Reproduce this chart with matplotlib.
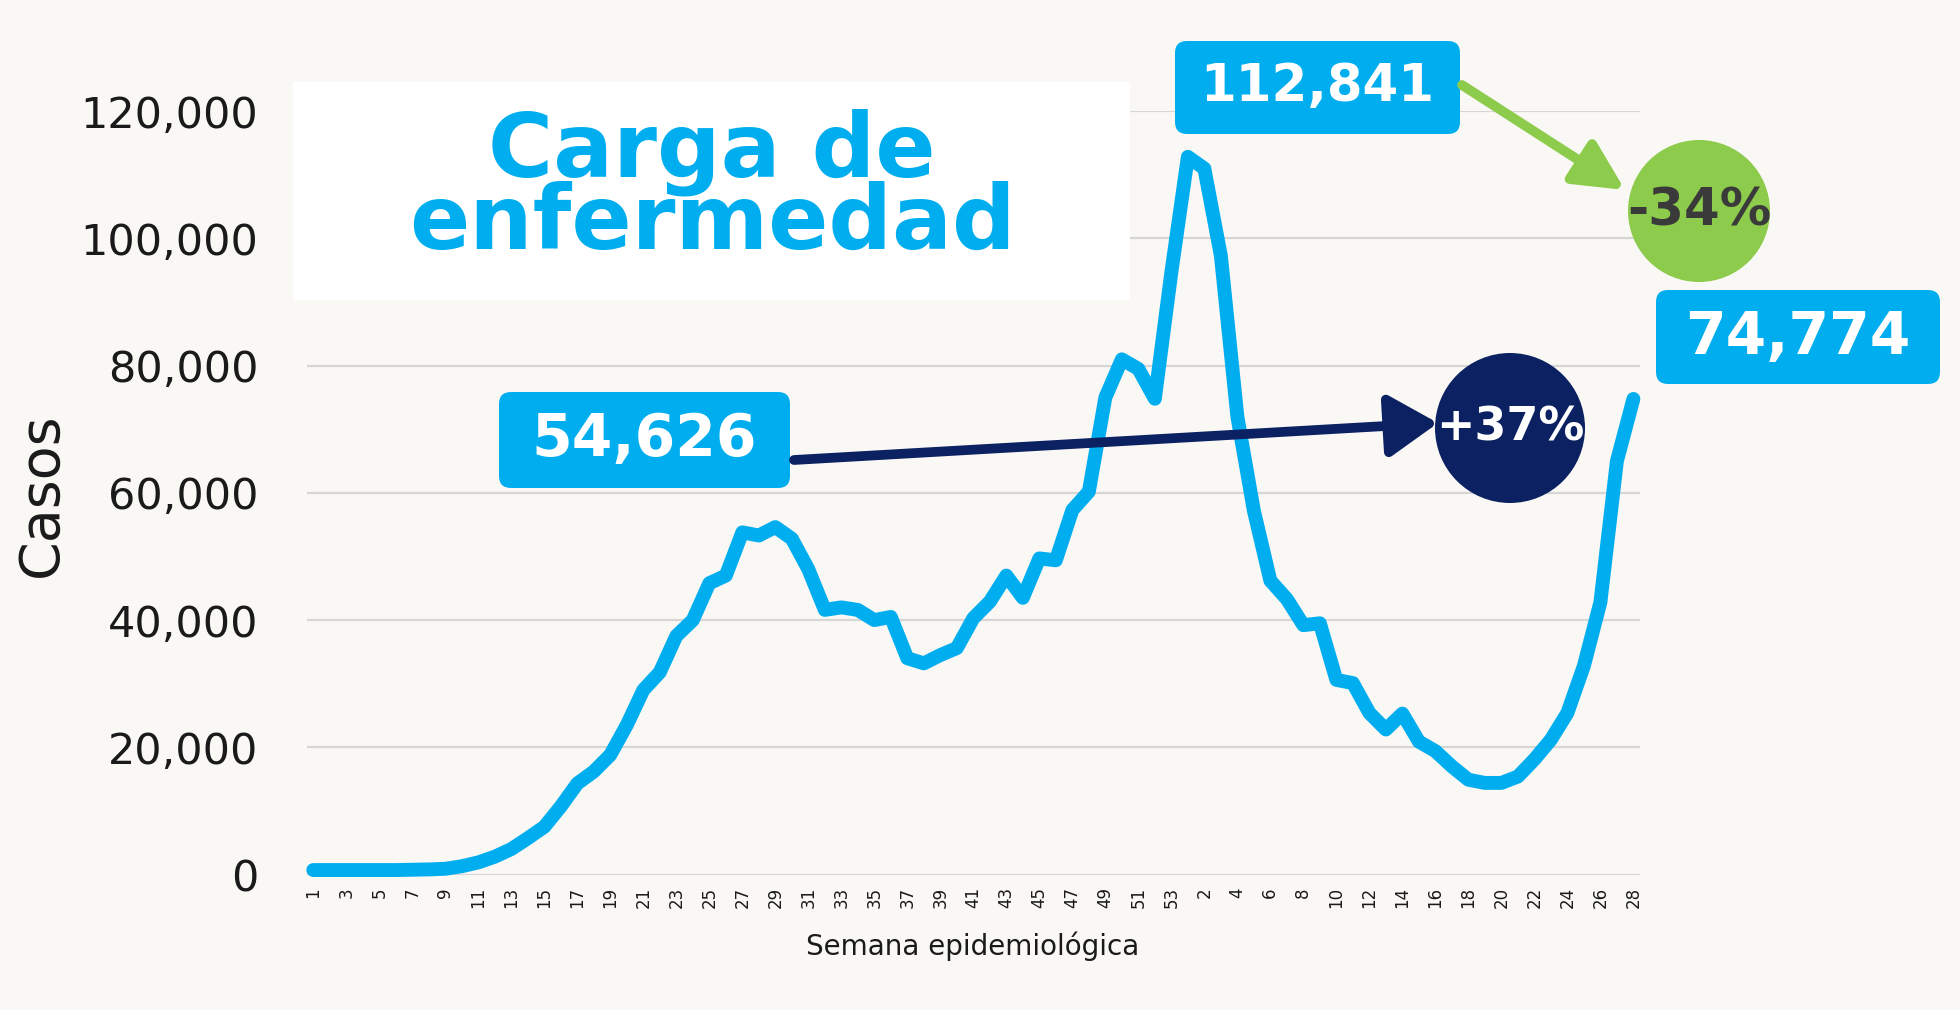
import matplotlib.pyplot as plt
from matplotlib.patches import FancyBboxPatch, Circle, FancyArrowPatch, Rectangle

# semanas epidemiologicas 2020 (1-53) y 2021 (1-28)
semanas_2020 = list(range(1, 54))
semanas_2021 = list(range(1, 29))

casos_2020 = [700, 700, 700, 700, 700, 700, 750, 800, 900, 1300,
              1900, 2800, 4000, 5700, 7500, 10700, 14300, 16200, 18800, 23500,
              29000, 31800, 37500, 40000, 45800, 47000, 53800, 53300, 54626, 52800,
              48000, 41600, 42000, 41600, 40000, 40500, 34000, 33200, 34500, 35600,
              40300, 42900, 47000, 43500, 49700, 49400, 57300, 60200, 75000, 81000,
              79500, 74800, 94700]
casos_2021 = [112841, 111000, 97300, 72000, 57200, 46200, 43300, 39200, 39500, 30600,
              30100, 25400, 22800, 25300, 20900, 19400, 17000, 14900, 14400, 14400,
              15400, 18100, 21200, 25400, 32800, 42800, 65000, 74774]

y_ticks = [0, 20000, 40000, 60000, 80000, 100000, 120000]

cian = '#00AEEF'
marino = '#0B2161'
verde = '#8DCB4C'
fondo = '#FAF8F5'

casos = casos_2020 + casos_2021
semanas = semanas_2020 + semanas_2021
x = list(range(len(casos)))

pico_ola1 = max(casos_2020[:40])
pico = max(casos)
actual = casos[-1]
cambio_pico = round((actual / pico - 1) * 100)
cambio_ola1 = round((actual / pico_ola1 - 1) * 100)

W, H = 1960, 1010
fig = plt.figure(figsize=(W / 100, H / 100), dpi=100, facecolor=fondo)


def px(xp, yp):
    # pixeles de la imagen -> pulgadas de la figura
    return xp / 100, (H - yp) / 100


ax = fig.add_axes([307 / W, (H - 874.5) / H, (1640 - 307) / W, (874.5 - 111.3) / H])
ax.set_facecolor('none')
ax.plot(x, casos, color=cian, lw=10, solid_capstyle='round', solid_joinstyle='round',
        clip_on=False, zorder=3)

ax.set_xlim(-0.38, 80.4)
ax.set_ylim(0, 120000)
ax.set_yticks(y_ticks)
ax.set_yticklabels([f'{v:,}' for v in y_ticks])
ax.set_xticks(x[::2])
ax.set_xticklabels([str(s) for s in semanas[::2]], rotation=90)
ax.tick_params(axis='y', length=0, pad=35, labelsize=31, labelcolor='#1A1A1A')
ax.tick_params(axis='x', length=0, pad=9, labelsize=12, labelcolor='#1A1A1A')
ax.grid(axis='y', color='#D6D6D6', lw=1.6)
ax.set_axisbelow(True)
for s in ax.spines.values():
    s.set_visible(False)

fig.text(42 / W, (H - 495) / H, 'Casos', rotation=90, ha='center', va='center',
         fontsize=40, color='#1A1A1A')
fig.text(973 / W, (H - 946) / H, 'Semana epidemiológica', ha='center', va='center',
         fontsize=20, color='#1A1A1A')

# recuadro blanco del titulo
fig.add_artist(Rectangle(px(293, 300), 837 / 100, 218 / 100, transform=fig.dpi_scale_trans,
                         fc='white', ec='none', zorder=2))
fig.text(712 / W, (H - 249) / H, 'Carga de\nenfermedad', ha='center', va='baseline',
         multialignment='center', linespacing=0.78, fontsize=64,
         fontweight='bold', color=cian, zorder=5)


def caja(x0, y0, x1, y1, texto, size):
    fig.add_artist(FancyBboxPatch(px(x0, y1), (x1 - x0) / 100, (y1 - y0) / 100,
                                  boxstyle='round,pad=0,rounding_size=0.12',
                                  transform=fig.dpi_scale_trans, fc=cian, ec='none', zorder=6))
    cx, cy = px((x0 + x1) / 2, (y0 + y1) / 2)
    fig.text(cx, cy, texto, transform=fig.dpi_scale_trans, ha='center', va='center',
             fontsize=size, fontweight='bold', color='white', zorder=7)


caja(1175, 41, 1460, 134, f'{pico:,}', 37)
caja(499, 392, 790, 488, f'{pico_ola1:,}', 42)
caja(1656, 290, 1940, 384, f'{actual:,}', 42)

# flechas
fig.add_artist(FancyArrowPatch(px(1462, 85), px(1625, 190), arrowstyle='-|>,head_length=30,head_width=15',
                               mutation_scale=1, lw=7, color=verde, shrinkA=0, shrinkB=0,
                               transform=fig.dpi_scale_trans, zorder=6))
fig.add_artist(FancyArrowPatch(px(794, 460), px(1438, 423), arrowstyle='-|>,head_length=30,head_width=19',
                               mutation_scale=1, lw=7, color=marino, shrinkA=0, shrinkB=0,
                               transform=fig.dpi_scale_trans, zorder=6))

# circulos de cambio porcentual
fig.add_artist(Circle(px(1699, 211), 0.71, transform=fig.dpi_scale_trans, fc=verde, ec='none', zorder=6))
cx, cy = px(1699, 211)
fig.text(cx, cy, f'{cambio_pico}%', transform=fig.dpi_scale_trans, ha='center', va='center',
         fontsize=37, fontweight='bold', color='#3A3A3A', zorder=7)

fig.add_artist(Circle(px(1510, 428), 0.75, transform=fig.dpi_scale_trans, fc=marino, ec='none', zorder=6))
cx, cy = px(1510, 428)
fig.text(cx, cy, f'+{cambio_ola1}%', transform=fig.dpi_scale_trans, ha='center', va='center',
         fontsize=33, fontweight='bold', color='white', zorder=7)

fig.savefig('out.png', dpi=100, facecolor=fondo)
